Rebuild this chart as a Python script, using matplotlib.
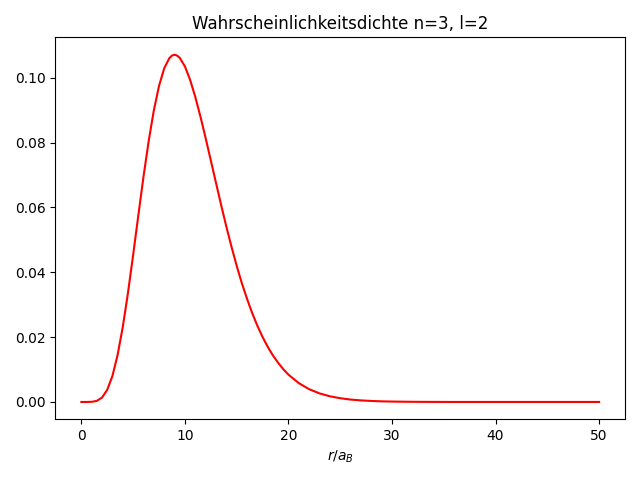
import matplotlib
matplotlib.use("Agg")
import matplotlib.pyplot as plt

# values
r_values = [0, 0.5, 1, 1.5, 2, 2.5, 3, 3.5, 4, 4.5, 5, 5.5, 6, 6.5, 7, 7.5,
            8, 8.5, 8.75, 9, 9.25, 9.5, 10, 10.5, 11, 11.5, 12, 12.5, 13,
            13.5, 14, 14.5, 15, 15.5, 16, 16.5, 17, 17.5, 18, 18.5, 19, 19.5,
            20, 21, 22, 23, 24, 25, 26, 27, 28, 29, 30, 31, 32, 33, 34, 35,
            36, 38, 40, 42, 44, 46, 48, 50]
density = [0.0, 0.0, 0.00004, 0.00034, 0.00137, 0.00375, 0.00802, 0.01449,
           0.02313, 0.03361, 0.04531, 0.05752, 0.06947, 0.08044, 0.08994,
           0.09748, 0.1029, 0.10605, 0.10682, 0.1071, 0.10681, 0.10613,
           0.1035, 0.09935, 0.0941, 0.08802, 0.0814, 0.07452, 0.0676,
           0.06072, 0.0541, 0.04786, 0.0420, 0.0366, 0.0318, 0.02739,
           0.0235, 0.02002, 0.0170, 0.01434, 0.0121, 0.0101, 0.00842,
           0.0058, 0.00393, 0.00264, 0.00175, 0.00115, 0.00074, 0.00048,
           0.00031, 0.00019, 0.00012, 0.00008, 0.00005, 0.00003, 0.00002,
           0.00001, 0.0, 0.0, 0.0, 0.0, 0.0, 0.0, 0.0, 0.0]


def main():
    fig, ax = plt.subplots(figsize=(6.4, 4.8), dpi=100)
    ax.plot(r_values, density, color="red")
    ax.set_title("Wahrscheinlichkeitsdichte n=3, l=2")
    ax.set_xlabel("$r/a_B$")
    fig.tight_layout()
    fig.savefig("out.png")


if __name__ == "__main__":
    main()
